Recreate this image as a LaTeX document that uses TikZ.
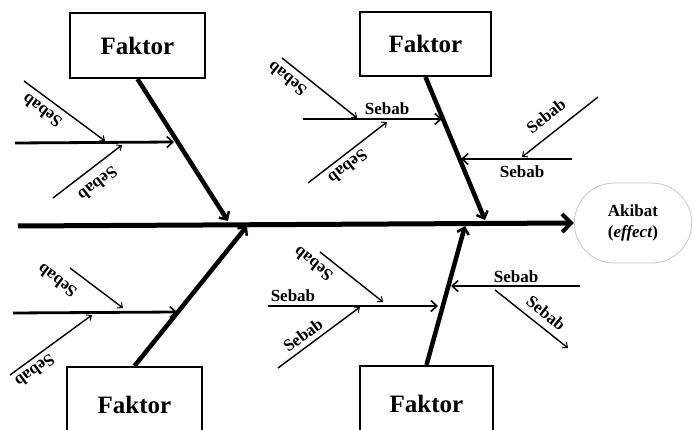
\documentclass[tikz,border=0pt]{standalone}
\usepackage{fontspec}
\setmainfont{Liberation Serif}
\usetikzlibrary{arrows.meta,shapes.misc}
\begin{document}
\begin{tikzpicture}[x=1pt,y=-1pt,
  faktorbox/.style={draw,line width=2pt,minimum width=135pt,minimum height=65pt,inner sep=0pt,font=\fontsize{25}{30}\selectfont\bfseries},
  spine/.style={line width=5pt,-{Straight Barb[length=9pt,width=18pt,line width=4pt]}},
  bone/.style={line width=4.5pt,-{Straight Barb[length=6pt,width=12pt,line width=2.5pt]}},
  subh/.style={line width=2.8pt,-{Straight Barb[length=6pt,width=11pt,line width=1.6pt]}},
  subd/.style={line width=1.4pt,-{Straight Barb[length=4pt,width=7pt,line width=1pt]}},
  lbl/.style={font=\fontsize{17}{20}\selectfont\bfseries,inner sep=0pt}]
\clip (0,0) rectangle (694,430);
\fill[white] (0,0) rectangle (694,430);
% effect node
\node[draw=gray!45,line width=0.8pt,rounded rectangle,minimum width=124pt,minimum height=80pt,align=center,font=\fontsize{17}{21}\selectfont\bfseries] (eff) at (633,223) {Akibat\\(\textit{effect})};
% factor boxes
\node[faktorbox,minimum width=135pt,minimum height=65pt] (tl) at (137.5,45.5) {Faktor};
\node[faktorbox,minimum width=131pt,minimum height=64pt] (tr) at (425.5,44) {Faktor};
\node[faktorbox,minimum width=135pt,minimum height=76pt] (bl) at (134.5,405) {Faktor};
\node[faktorbox,minimum width=133pt,minimum height=76pt] (br) at (426.5,404) {Faktor};
% spine
\coordinate (s0) at (18,226);
\draw[spine] (s0) -- (eff.west);
% bones
\coordinate (tle) at (228,221);
\coordinate (tre) at (485,220);
\coordinate (ble) at (247,226);
\coordinate (bre) at (465,226);
\draw[bone] (tl.south) -- (tle);
\draw[bone] (tr.south) -- (tre);
\draw[bone] (bl.north) -- (ble);
\draw[bone] (br.north) -- (bre);
% ---- top-left group
\coordinate (a1) at (15,143); \coordinate (a2) at (174,142);
\draw[subh] (a1) -- (a2);
\coordinate (a3) at (24,81); \coordinate (a4) at (105,141);
\draw[subd] (a3) -- (a4);
\coordinate (a5) at (53,198); \coordinate (a6) at (122,145);
\draw[subd] (a5) -- (a6);
\node[lbl,rotate=143.5] (la1) at (42,111) {Sebab};
\node[lbl,rotate=217.5] (la2) at (98,184) {Sebab};
% ---- top-right group
\coordinate (b1) at (303,119); \coordinate (b2) at (442,119);
\draw[subh] (b1) -- (b2);
\node[lbl] (lb1) at (387,109) {Sebab};
\coordinate (b3) at (282,58); \coordinate (b4) at (357,118);
\draw[subd] (b3) -- (b4);
\node[lbl,rotate=141.3] (lb2) at (287,79) {Sebab};
\coordinate (b5) at (308,183); \coordinate (b6) at (387,122);
\draw[subd] (b5) -- (b6);
\node[lbl,rotate=217.7] (lb3) at (348,167) {Sebab};
\coordinate (b7) at (572,159); \coordinate (b8) at (461,159);
\draw[subh] (b7) -- (b8);
\node[lbl] (lb4) at (522,172) {Sebab};
\coordinate (b9) at (598,97); \coordinate (b10) at (522,157);
\draw[subd] (b9) -- (b10);
\node[lbl,rotate=38.3] (lb5) at (546,116) {Sebab};
% ---- bottom-left group
\coordinate (c1) at (13,313); \coordinate (c2) at (177,312);
\draw[subh] (c1) -- (c2);
\coordinate (c3) at (70,268); \coordinate (c4) at (123,308);
\draw[subd] (c3) -- (c4);
\node[lbl,rotate=143] (lc1) at (57,281) {Sebab};
\coordinate (c5) at (10,375); \coordinate (c6) at (92,315);
\draw[subd] (c5) -- (c6);
\node[lbl,rotate=216] (lc2) at (35,371) {Sebab};
% ---- bottom-right group
\coordinate (d1) at (268,306); \coordinate (d2) at (438,306);
\draw[subh] (d1) -- (d2);
\node[lbl] (ld1) at (293,296) {Sebab};
\coordinate (d3) at (320,252); \coordinate (d4) at (383,302);
\draw[subd] (d3) -- (d4);
\node[lbl,rotate=141.6] (ld2) at (313,264) {Sebab};
\coordinate (d5) at (278,368); \coordinate (d6) at (360,307);
\draw[subd] (d5) -- (d6);
\node[lbl,rotate=36.6] (ld3) at (303,335) {Sebab};
\coordinate (d7) at (580,286); \coordinate (d8) at (451,286);
\draw[subh] (d7) -- (d8);
\node[lbl] (ld4) at (516,277) {Sebab};
\coordinate (d9) at (495,290); \coordinate (d10) at (568,348);
\draw[subd] (d9) -- (d10);
\node[lbl,rotate=-38.5] (ld5) at (546,313) {Sebab};
\end{tikzpicture}
\end{document}
